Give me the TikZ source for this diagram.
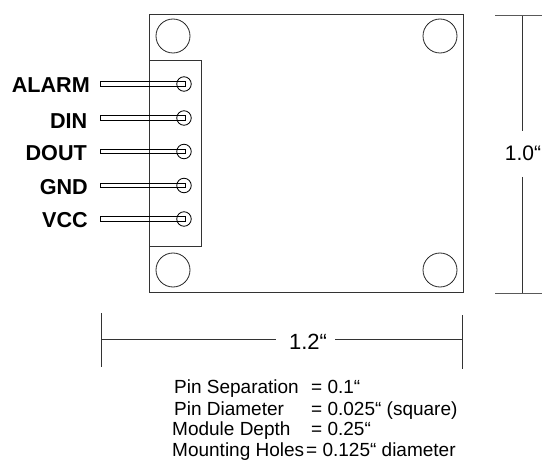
\documentclass[tikz,border=0pt]{standalone}
\usepackage{fontspec}
\setmainfont{Liberation Sans}
\begin{document}
\begin{tikzpicture}[x=1pt,y=-1pt,
  ln/.style={draw=black!80,line width=0.9pt},
  hole/.style={circle,draw=black!85,line width=0.8pt,minimum size=34pt,inner sep=0pt},
  pinbody/.style={rectangle,draw=black,line width=0.9pt,minimum width=85pt,minimum height=4.5pt,inner sep=0pt,anchor=west},
  pinhead/.style={circle,draw=black,line width=0.8pt,minimum size=14.5pt,inner sep=0pt},
  pinlabel/.style={font=\fontsize{21.6}{23}\selectfont\bfseries,anchor=base east,inner sep=0pt},
  dimlabel/.style={font=\fontsize{22}{24}\selectfont,anchor=base,inner sep=0pt},
  spec/.style={font=\fontsize{19}{21}\selectfont,anchor=base west,inner sep=0pt}]
\useasboundingbox (0,0) rectangle (542,460);
% board
\node[ln,rectangle,minimum width=314pt,minimum height=278pt,inner sep=0pt,anchor=north west] (board) at (149,14) {};
\node[hole] (h1) at (173,36) {};
\node[hole] (h2) at (440,36) {};
\node[hole] (h3) at (173,270) {};
\node[hole] (h4) at (440,270) {};
% connector
\node[ln,rectangle,minimum width=52pt,minimum height=186pt,inner sep=0pt,anchor=north west] (conn) at (149,60) {};
% pins
\foreach \n/\y/\t/\lx/\by in {a/84/ALARM/90/92.7,b/118/DIN/87.5/129,c/151.5/DOUT/87/160.7,d/185.5/GND/88/194,e/219/VCC/88/228}{
  \node[pinbody] (p\n) at (100,\y) {};
  \node[pinhead] (c\n) at (184,\y) {};
  \node[pinlabel] (l\n) at (\lx,\by) {\t};
}
% height dimension
\coordinate (t1) at (495,16); \coordinate (t2) at (542,16);
\coordinate (b1) at (495,293); \coordinate (b2) at (542,293);
\draw[black!65,line width=1pt] (t1) -- (t2);
\draw[black!65,line width=1pt] (b1) -- (b2);
\node[dimlabel,font=\fontsize{21}{23}\selectfont] (dimh) at (523,160.5) {1.0“};
\coordinate (vt) at (522,16); \coordinate (vb) at (522,293);
\coordinate (vt2) at (522,131); \coordinate (vb2) at (522,177);
\draw[ln] (vt) -- (vt2);
\draw[ln] (vb2) -- (vb);
% width dimension
\coordinate (l1) at (101,313); \coordinate (l2) at (101,367);
\coordinate (r1) at (462.5,315); \coordinate (r2) at (462.5,369);
\draw[ln] (l1) -- (l2);
\draw[ln] (r1) -- (r2);
\node[dimlabel] (dimw) at (308,349) {1.2“};
\coordinate (ml) at (101,339.5); \coordinate (ml2) at (276,339.5);
\coordinate (mr) at (462.5,339.5); \coordinate (mr2) at (335,339.5);
\draw[ln] (ml) -- (ml2);
\draw[ln] (mr2) -- (mr);
% notes
\node[spec] (s1a) at (174,393) {Pin Separation};
\node[spec] (s1b) at (311,393) {= 0.1“};
\node[spec] (s2a) at (174,415) {Pin Diameter};
\node[spec] (s2b) at (311,415) {= 0.025“ (square)};
\node[spec] (s3a) at (172,435) {Module Depth};
\node[spec] (s3b) at (311,435) {= 0.25“};
\node[spec] (s4a) at (172,456.5) {Mounting Holes};
\node[spec] (s4b) at (306,456.5) {= 0.125“ diameter};
\end{tikzpicture}
\end{document}
